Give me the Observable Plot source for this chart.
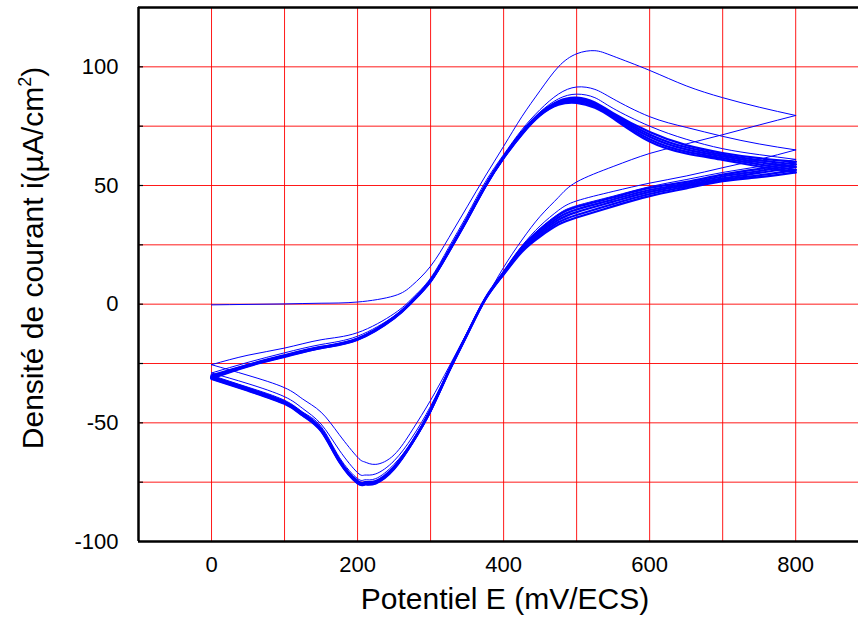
<!DOCTYPE html>
<html><head><meta charset="utf-8">
<script src="https://cdn.jsdelivr.net/npm/d3@7"></script>
<script src="https://cdn.jsdelivr.net/npm/@observablehq/plot@0.6"></script>
<style>body{margin:0;background:#fff;overflow:hidden}</style>
</head><body><div id="chart"></div>
<script>
// Potentials (mV/ECS) of the forward and reverse sweeps
const E_forward = [0,50,100,150,200,250,275,300,325,350,375,400,425,450,475,500,525,550,600,650,700,750,800];
const E_reverse = [800,750,700,650,600,550,500,475,450,425,400,375,350,325,300,275,250,225,210,200,175,150,125,100,50,0];

// Current density (µA/cm²) per cycle
const cycle1_forward = [-0.3,-0.1,0.1,0.4,0.9,3.5,8,16,28,41,54,66.5,79,90,100,105.5,106.8,104.5,98.5,92,87,83,79.5];
const cycle1_reverse = [79.5,75.5,71.4,67.5,63.5,58,51.5,45,37,27,15.5,2,-12,-26.5,-40.5,-53,-63.5,-67.5,-66.5,-64.5,-55,-45.5,-40,-35.2,-30,-25.5];
const cycle2_forward = [-25.5,-21.5,-18.5,-15,-12,-4,2.5,11,24,37.5,51.5,63,73.5,82,88.5,91.5,90.5,86.5,79,74.5,70.7,67.5,65];
const cycle2_reverse = [65,61,57.5,54,51,47.5,43.5,39.5,33,24.5,14,2,-12.5,-27.5,-43,-56,-66,-71.5,-72,-71,-61.5,-50.5,-44,-39,-33.5,-29];
const cycle3_forward = [-29,-24.5,-20.5,-17,-13.5,-5,2,10.5,23,36.5,50.5,62.5,73,81,86.5,88.5,87,82.5,75,69.5,65.5,63,61];
const cycle3_reverse = [61,58,55.5,52.5,49.5,45.5,41.5,38,32,24,13.5,2,-12.5,-28,-44,-57.5,-67.5,-73.5,-74,-73.5,-64.5,-51.5,-45.5,-40.5,-35,-30];
const cycle4_forward = [-30,-25.5,-21.5,-18,-14.5,-5.5,1.5,10,22.5,36,50,62,72.5,80.5,85.5,87,85,80.5,72.5,67,63.7,61.5,60];
const cycle4_reverse = [60,57,54.6,51.5,49,45,41,37.5,31.5,24,13.5,2.5,-12.5,-28,-44.5,-58,-68.5,-74.5,-75,-74.5,-65.5,-52.5,-46,-41,-35.5,-30.5];
const cycle5_forward = [-30.5,-25.7,-21.7,-18.1,-14.6,-5.6,1.4,9.9,22.4,35.9,49.9,61.9,72.2,80.2,85.1,86.5,84.5,80,71.5,66.1,63,60.6,58.9];
const cycle5_reverse = [58.9,56.1,53.8,50.8,48.1,44.1,39.9,36.5,30.7,23.5,13.2,2.4,-12.6,-28.1,-44.7,-58.2,-68.8,-74.8,-75.3,-74.8,-65.8,-52.8,-46.3,-41.3,-35.8,-30.8];
const cycle6_forward = [-30.8,-25.8,-21.8,-18.2,-14.7,-5.7,1.3,9.8,22.3,35.8,49.8,61.8,72,80,84.8,86,84,79.5,70.5,65.2,62.3,59.8,57.8];
const cycle6_reverse = [57.8,55.3,53,50.2,47.3,43.2,38.8,35.5,30,23,13,2.3,-12.7,-28.2,-44.8,-58.3,-69,-75,-75.5,-75,-66,-53,-46.5,-41.5,-36,-31];
const cycle8_forward = [-31,-26,-22,-18.4,-14.9,-5.9,1.1,9.6,22.1,35.6,49.6,61.6,71.7,79.7,84.4,85.4,83.4,78.9,69.5,64.3,61.5,58.9,56.6];
const cycle8_reverse = [56.6,54.3,52.4,49.5,46.4,42.2,37.6,34.5,29.2,22.5,12.7,2.1,-12.8,-28.4,-44.9,-58.4,-69.3,-75.3,-75.8,-75.3,-66.3,-53.3,-46.8,-41.8,-36.3,-31.3];
const cycle10_forward = [-31.3,-26.2,-22.2,-18.5,-15,-6,1,9.5,22,35.5,49.5,61.5,71.5,79.5,84,84.8,82.8,78.3,68.5,63.5,60.8,58,55.5];
const cycle10_reverse = [55.5,53.5,51.8,48.8,45.5,41.2,36.5,33.5,28.5,22,12.5,2,-13,-28.5,-45,-58.5,-69.5,-75.5,-76,-75.5,-66.5,-53.5,-47,-42,-36.5,-31.5];

// Axis ticks and grid
const xTicks = [0,200,400,600,800];
const xGrid = [0,100,200,300,400,500,600,700,800];
const yTicks = [-100,-50,0,50,100];
const yGrid = [-75,-50,-25,0,25,50,75,100];
const xDomain = [-100, 886];
const yDomain = [-100, 125];

function branch(seg, E, I) { return E.map((e, i) => ({E: e, I: I[i], seg})); }
const thin = [
  ...branch("c1f", E_forward, cycle1_forward), ...branch("c1r", E_reverse, cycle1_reverse),
  ...branch("c2f", E_forward, cycle2_forward), ...branch("c2r", E_reverse, cycle2_reverse),
  ...branch("c3f", E_forward, cycle3_forward), ...branch("c3r", E_reverse, cycle3_reverse)
];
const thick = [
  ...branch("c4f", E_forward, cycle4_forward), ...branch("c4r", E_reverse, cycle4_reverse),
  ...branch("c5f", E_forward, cycle5_forward), ...branch("c5r", E_reverse, cycle5_reverse),
  ...branch("c6f", E_forward, cycle6_forward), ...branch("c6r", E_reverse, cycle6_reverse),
  ...branch("c8f", E_forward, cycle8_forward), ...branch("c8r", E_reverse, cycle8_reverse),
  ...branch("c10f", E_forward, cycle10_forward), ...branch("c10r", E_reverse, cycle10_reverse)
];

const svg = Plot.plot({
  width: 858, height: 621,
  marginLeft: 138, marginRight: 0, marginTop: 7, marginBottom: 80,
  style: {fontFamily: "'Liberation Sans', Arial, sans-serif", background: "#fff", color: "#000"},
  x: {domain: xDomain},
  y: {domain: yDomain},
  marks: [
    Plot.gridX(xGrid, {stroke: "#ff0000", strokeOpacity: 0.9, strokeWidth: 1}),
    Plot.gridY(yGrid, {stroke: "#ff0000", strokeOpacity: 0.9, strokeWidth: 1}),
    Plot.line(thin, {x: "E", y: "I", z: "seg", stroke: "#0000ff", strokeWidth: 1, curve: "natural"}),
    Plot.line(thick, {x: "E", y: "I", z: "seg", stroke: "#0000ff", strokeWidth: 2.2, curve: "natural"}),
    Plot.ruleX([xDomain[0]], {stroke: "#000", strokeWidth: 2.5}),
    Plot.ruleY(yDomain, {stroke: "#000", strokeWidth: 2.5}),
    Plot.axisX(xTicks, {tickSize: 0, tickPadding: 15, fontSize: 22, label: null, tickFormat: d => String(d)}),
    Plot.axisY(yTicks, {tickSize: 0, tickPadding: 20, fontSize: 22, label: null, tickFormat: d => String(d)}),
    Plot.axisY(yGrid, {tickSize: -5, tickFormat: () => "", label: null, strokeWidth: 1.2})
  ]
});
document.getElementById("chart").appendChild(svg);

const s = d3.select(svg);
s.append("text")
  .attr("x", 505).attr("y", 609)
  .attr("text-anchor", "middle")
  .attr("font-size", 30)
  .attr("font-family", "'Liberation Sans', Arial, sans-serif")
  .attr("fill", "#000")
  .text("Potentiel E (mV/ECS)");
const yl = s.append("text")
  .attr("transform", "translate(43,258) rotate(-90)")
  .attr("text-anchor", "middle")
  .attr("font-size", 30)
  .attr("font-family", "'Liberation Sans', Arial, sans-serif")
  .attr("fill", "#000");
yl.append("tspan").text("Densité de courant i(µA/cm");
yl.append("tspan").attr("font-size", 18).attr("dy", -12).text("2");
yl.append("tspan").attr("dy", 12).text(")");
</script></body></html>
